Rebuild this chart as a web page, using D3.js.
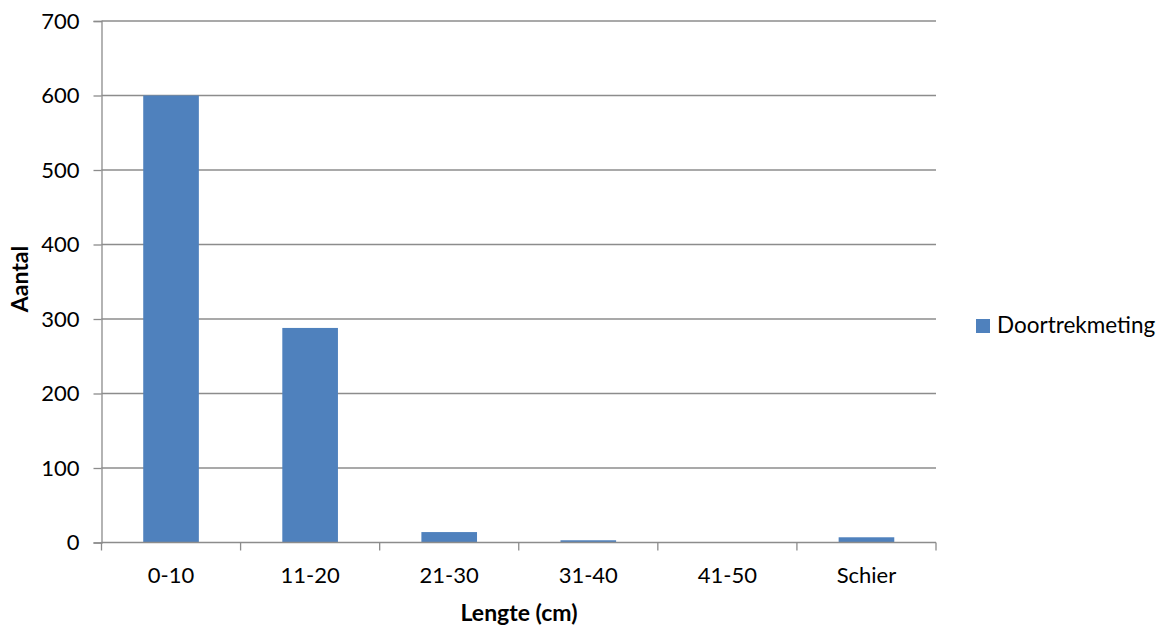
<!DOCTYPE html>
<html><head><meta charset="utf-8">
<script src="https://cdn.jsdelivr.net/npm/d3@7"></script>
<style>body{margin:0;background:#fff}svg{display:block}text{font-family:Lato,"Open Sans",sans-serif;fill:#000}</style>
</head><body><svg id="c" width="1171" height="625"></svg>
<script>
const categories = ["0-10","11-20","21-30","31-40","41-50","Schier"];
const values = [600, 288, 14, 3, 0, 7];
const yTicks = [0,100,200,300,400,500,600,700];
const seriesName = "Doortrekmeting";
const xTitle = "Lengte (cm)";
const yTitle = "Aantal";

const svg = d3.select("#c");
const L = 101.5, R = 936, T = 21, B = 542.5;
const x = d3.scaleBand().domain(categories).range([L, R]).paddingInner(0.6).paddingOuter(0.3);
const xb = d3.scaleBand().domain(categories).range([L, R]);
const y = d3.scaleLinear().domain([0, 700]).range([B, T]);
const grid = "#8c8c8c";

svg.append("g").selectAll("line").data(yTicks.slice(1)).join("line")
  .attr("x1", L).attr("x2", R).attr("y1", d => y(d)).attr("y2", d => y(d))
  .attr("stroke", grid).attr("stroke-width", 1.3);

svg.append("g").selectAll("rect").data(values).join("rect")
  .attr("x", (d,i) => x(categories[i])).attr("width", x.bandwidth())
  .attr("y", d => y(d)).attr("height", d => B - y(d)).attr("fill", "#4f81bd");

// y axis
const ya = svg.append("g").attr("transform", `translate(${L},0)`)
  .call(d3.axisLeft(y).tickValues(yTicks).tickSize(8).tickPadding(14));
ya.select(".domain").attr("stroke", grid).attr("stroke-width", 1.3);
ya.selectAll(".tick line").attr("stroke", grid).attr("stroke-width", 1.3);
ya.selectAll("text").attr("font-size", 22).attr("font-family", "Lato").attr("fill", "#000");

// x axis
svg.append("line").attr("x1", L).attr("x2", R).attr("y1", B).attr("y2", B).attr("stroke", grid).attr("stroke-width", 1.3);
const bounds = categories.map(c => xb(c)).concat([R]);
svg.append("g").selectAll("line").data(bounds).join("line")
  .attr("x1", d => d).attr("x2", d => d).attr("y1", B).attr("y2", B + 8)
  .attr("stroke", grid).attr("stroke-width", 1.3);
svg.append("g").selectAll("text").data(categories).join("text")
  .attr("x", d => xb(d) + xb.bandwidth()/2).attr("y", 583)
  .attr("text-anchor", "middle").attr("font-size", 22).text(d => d);

svg.append("text").attr("x", 519).attr("y", 621).attr("text-anchor", "middle")
  .attr("font-size", 23).attr("font-weight", "bold").text(xTitle);
svg.append("text").attr("transform", "translate(28,279) rotate(-90)").attr("text-anchor", "middle")
  .attr("font-size", 23).attr("font-weight", "bold").text(yTitle);

// legend
svg.append("rect").attr("x", 976).attr("y", 319).attr("width", 14).attr("height", 14).attr("fill", "#4f81bd");
svg.append("text").attr("x", 997).attr("y", 333).attr("font-size", 22.5).text(seriesName);
</script></body></html>
